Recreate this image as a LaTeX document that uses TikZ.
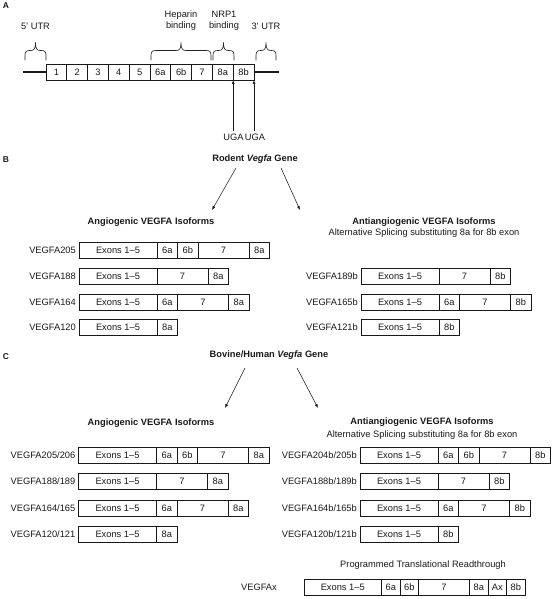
\documentclass[tikz,border=0pt]{standalone}
\usepackage{fontspec}
\setmainfont{Liberation Sans}
\usetikzlibrary{arrows.meta}
\newcommand\exrow[5]{%
  \node[inner sep=0pt, outer sep=0pt, minimum size=0pt] (#1-0) at (#2,#3) {};
  \node[lbl] (#1-lab) at ([xshift=-3pt]#1-0) {#4};
  \foreach \w/\t [count=\i, remember=\i as \j (initially 0)] in {#5}
    {\node[exon, minimum width=\w pt] (#1-\i) at (#1-\j.east) {\t};}
}
\newcommand\mybrace[2]{%
  \pgfmathsetmacro\bm{(#1+#2)/2}%
  \draw[brc] (#1,60.5) -- (#1,55.5) .. controls (#1,51.5) and (#1+1.5,50.5) .. (#1+5,50.5)
     -- (\bm-5,50.5) .. controls (\bm-1.5,50.5) and (\bm,49) .. (\bm,42.5)
     .. controls (\bm,49) and (\bm+1.5,50.5) .. (\bm+5,50.5)
     -- (#2-5,50.5) .. controls (#2-1.5,50.5) and (#2,51.5) .. (#2,55.5) -- (#2,60.5);
}
\begin{document}
\begin{tikzpicture}[x=1pt,y=-1pt,
  every node/.style={font=\fontsize{9.3}{11}\selectfont, text=black!90},
  exon/.style={draw=black!90, line width=0.95pt, minimum height=16pt, inner sep=0pt, outer sep=0pt, anchor=west},
  lbl/.style={anchor=east, inner sep=0pt},
  ttl/.style={font=\fontsize{9.3}{11}\selectfont\bfseries},
  sec/.style={font=\fontsize{8.5}{10}\selectfont\bfseries},
  arr/.style={-{Latex[length=4pt,width=3pt]}, line width=0.55pt, draw=black!90},
  brc/.style={line width=0.65pt, draw=black!85},
]
\useasboundingbox (0,0) rectangle (554,599);

% ---------- A ----------
\node[sec] (secA) at (6,6) {A};
\exrow{gene}{46}{72}{}{20.8/1, 20.8/2, 20.8/3, 20.8/4, 20.8/5, 20.8/6a, 20.8/6b, 20.8/7, 20.8/8a, 20.8/8b}
\coordinate (geneL) at (23,72);
\coordinate (geneR) at (279,72);
\draw[line width=1.6pt, draw=black!90] (geneL) -- (gene-0);
\draw[line width=1.6pt, draw=black!90] (gene-10.east) -- (geneR);

\mybrace{25}{46}
\mybrace{151}{211}
\mybrace{213}{234}
\mybrace{256}{276}

\node (utr5) at (35.5,26) {5' UTR};
\node[align=center] (hep) at (181,20.5) {Heparin\\binding};
\node[align=center] (nrp) at (224,20.5) {NRP1\\binding};
\node (utr3) at (266,26) {3' UTR};

\node (uga1) at (233.5,137.5) {UGA};
\node (uga2) at (255,137.5) {UGA};
\draw[arr] (uga1.north -| gene-9.south east) -- (gene-9.south east);
\draw[arr] (uga2.north -| gene-10.south east) -- (gene-10.south east);

% ---------- B ----------
\node[sec] (secB) at (6,160) {B};
\node[ttl] (rodent) at (255,159) {Rodent \textit{Vegfa} Gene};
\coordinate (rbL0) at (236,168); \coordinate (rbL1) at (212,210);
\coordinate (rbR0) at (281,168); \coordinate (rbR1) at (300,210);
\draw[arr] (rbL0) -- (rbL1);
\draw[arr] (rbR0) -- (rbR1);

\node[ttl] (bAng) at (151,222) {Angiogenic VEGFA Isoforms};
\node[ttl] (bAnti) at (424,222) {Antiangiogenic VEGFA Isoforms};
\node (bAntiSub) at (424,233.5) {Alternative Splicing substituting 8a for 8b exon};

\exrow{b205}{79}{250}{VEGFA205}{78/Exons 1--5, 20.5/6a, 20.5/6b, 51/7, 20.5/8a}
\exrow{b188}{79}{276}{VEGFA188}{78/Exons 1--5, 51/7, 20.5/8a}
\exrow{b164}{79}{302.5}{VEGFA164}{78/Exons 1--5, 20.5/6a, 51/7, 20.5/8a}
\exrow{b120}{79}{327.5}{VEGFA120}{78/Exons 1--5, 20.5/8a}

\exrow{b189b}{361}{276}{VEGFA189b}{78/Exons 1--5, 51/7, 20.5/8b}
\exrow{b165b}{361}{302.5}{VEGFA165b}{78/Exons 1--5, 20.5/6a, 51/7, 20.5/8b}
\exrow{b121b}{361}{327.5}{VEGFA121b}{78/Exons 1--5, 20.5/8b}

% ---------- C ----------
\node[sec] (secC) at (6,357) {C};
\node[ttl] (bovine) at (269,355) {Bovine/Human \textit{Vegfa} Gene};
\coordinate (cL0) at (245,368); \coordinate (cL1) at (225,408);
\coordinate (cR0) at (297,368); \coordinate (cR1) at (318,408);
\draw[arr] (cL0) -- (cL1);
\draw[arr] (cR0) -- (cR1);

\node[ttl] (cAng) at (151,423) {Angiogenic VEGFA Isoforms};
\node[ttl] (cAnti) at (422,422) {Antiangiogenic VEGFA Isoforms};
\node (cAntiSub) at (422,435) {Alternative Splicing substituting 8a for 8b exon};

\exrow{c205}{78.5}{455}{VEGFA205/206}{78/Exons 1--5, 20.5/6a, 20.5/6b, 51/7, 20.5/8a}
\exrow{c188}{78.5}{481.5}{VEGFA188/189}{78/Exons 1--5, 51/7, 20.5/8a}
\exrow{c164}{78.5}{508}{VEGFA164/165}{78/Exons 1--5, 20.5/6a, 51/7, 20.5/8a}
\exrow{c120}{78.5}{534}{VEGFA120/121}{78/Exons 1--5, 20.5/8a}

\exrow{c205b}{360}{455}{VEGFA204b/205b}{78/Exons 1--5, 20.5/6a, 20.5/6b, 51/7, 20.5/8b}
\exrow{c189b}{360}{481.5}{VEGFA188b/189b}{78/Exons 1--5, 51/7, 20.5/8b}
\exrow{c165b}{360}{508}{VEGFA164b/165b}{78/Exons 1--5, 20.5/6a, 51/7, 20.5/8b}
\exrow{c121b}{360}{534}{VEGFA120b/121b}{78/Exons 1--5, 20.5/8b}

\node (prt) at (423,565) {Programmed Translational Readthrough};
\exrow{vx}{304}{587}{}{77.5/Exons 1--5, 18.5/6a, 18.5/6b, 51/7, 18.5/8a, 18.5/Ax, 18.5/8b}
\node[lbl] (vxlab) at (277,587) {VEGFAx};
\end{tikzpicture}
\end{document}
